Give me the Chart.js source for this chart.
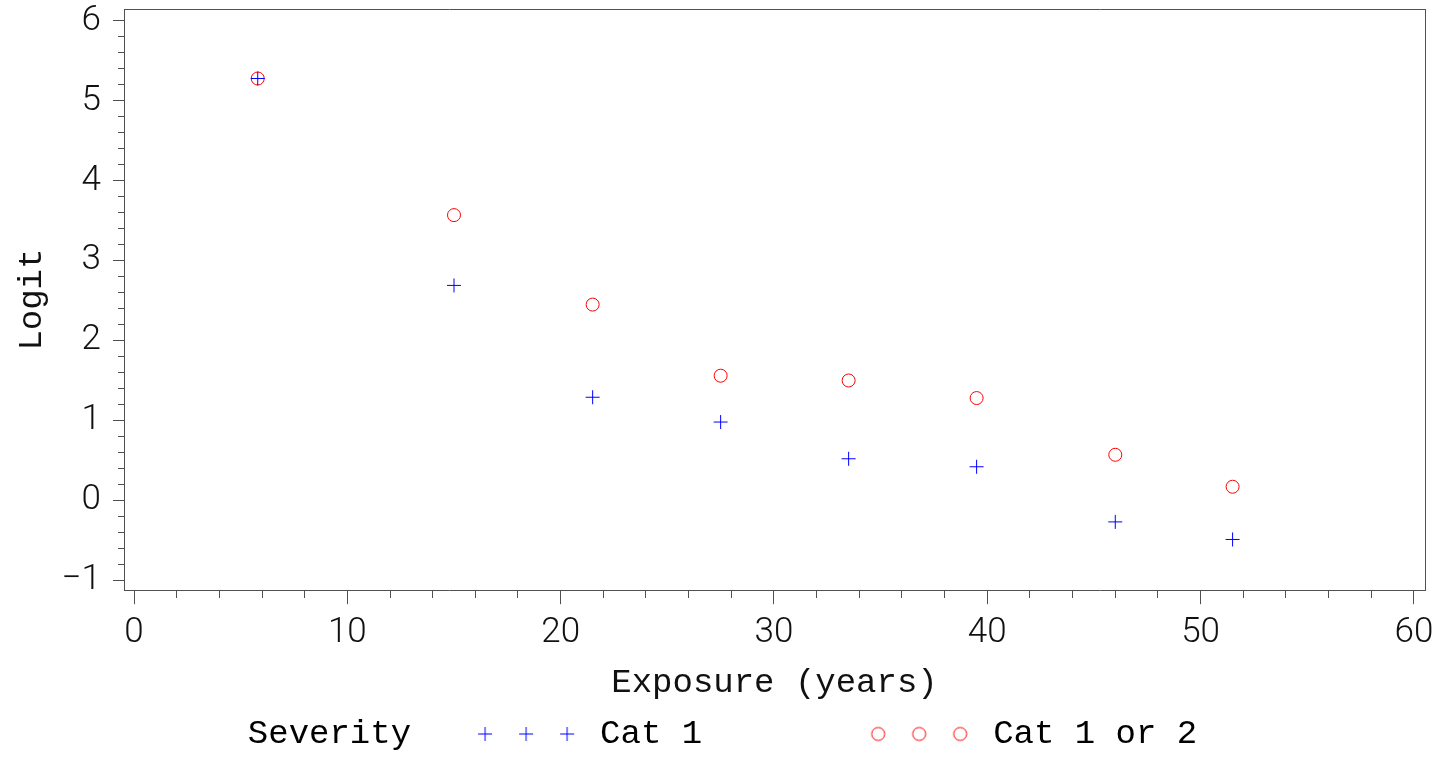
<!DOCTYPE html>
<html>
<head>
<meta charset="utf-8">
<script src="https://cdn.jsdelivr.net/npm/chart.js@4.4.1/dist/chart.umd.min.js"></script>
<style>
  html, body { margin: 0; padding: 0; background: #fff; }
  canvas { display: block; }
</style>
</head>
<body>
<canvas id="logit-chart" width="1443" height="761"></canvas>
<script>
// values
const exposure = [5.8, 15, 21.5, 27.5, 33.5, 39.5, 46, 51.5];
const cat1 = [5.28, 2.69, 1.29, 0.98, 0.52, 0.42, -0.27, -0.49];
const cat1or2 = [5.28, 3.57, 2.45, 1.56, 1.50, 1.28, 0.57, 0.17];
const seriesNames = ['Cat 1', 'Cat 1 or 2'];
const xTickLabels = [0, 10, 20, 30, 40, 50, 60];
const yTickLabels = [-1, 0, 1, 2, 3, 4, 5, 6];
const legendTitle = 'Severity';
const xTitle = 'Exposure (years)';
const yTitle = 'Logit';

const axisGray = '#505050';
const textColor = '#111';
const monoFont = {family: '"Liberation Mono", "DejaVu Sans Mono", monospace', size: 34};
const tickFont = {family: 'Roboto, "Liberation Sans", sans-serif', size: 35, weight: 300};

// three markers in a row for the legend, like the original key
const markerOffsets = [-96.5, -55.5, -14.5];
function markerStrip(style, color, radius)
{
  let c = document.createElement('canvas');
  c.width = Math.ceil(2 * (96.5 + radius + 3));
  c.height = Math.ceil(2 * radius + 6);
  let g = c.getContext('2d');
  g.strokeStyle = color;
  g.fillStyle = 'rgba(0,0,0,0)';
  g.lineWidth = 1;
  markerOffsets.forEach((dx) =>
  {
    Chart.helpers.drawPoint(g, {pointStyle: style, radius: radius, borderWidth: 1}, c.width / 2 + dx, c.height / 2);
  });
  return c;
}
function blankBox()
{
  let c = document.createElement('canvas');
  c.width = 1;
  c.height = 1;
  return c;
}

function isNear(v, list)
{
  return list.some((t) => Math.abs(v - t) < 1e-6);
}

function toPoints(xs, ys)
{
  return xs.map((x, i) => ({x: x, y: ys[i]}));
}

function drawIt()
{
  let ctx = document.getElementById('logit-chart').getContext('2d');
  const plusStrip = markerStrip('cross', '#0000ff', 7);
  const circleStrip = markerStrip('circle', '#ff0000', 6.5);

  new Chart(ctx,
  {
    type: 'scatter',
    data:
    {
      datasets: [
      {
        label: seriesNames[0],
        data: toPoints(exposure, cat1),
        pointStyle: 'cross',
        radius: 7,
        borderColor: '#0000ff',
        borderWidth: 1,
      },
      {
        label: seriesNames[1],
        data: toPoints(exposure, cat1or2),
        pointStyle: 'circle',
        radius: 6.5,
        borderColor: '#ff0000',
        backgroundColor: 'rgba(0,0,0,0)',
        borderWidth: 1,
      }, ],
    },
    options:
    {
      responsive: false,
      animation: false,
      layout: {padding: {top: 9, right: 18, left: 0, bottom: 0}},
      plugins:
      {
        tooltip: {enabled: false},
        legend:
        {
          position: 'bottom',
          onClick: null,
          labels:
          {
            usePointStyle: true,
            pointStyleWidth: 3,
            padding: 5.8,
            color: textColor,
            font: monoFont,
            // trailing spaces give the wide gaps of the original key
            generateLabels: () => [
              {text: legendTitle + ' '.repeat(8), pointStyle: blankBox(), lineWidth: 0, strokeStyle: 'rgba(0,0,0,0)', fillStyle: 'rgba(0,0,0,0)', hidden: false},
              {text: seriesNames[0] + ' '.repeat(13), pointStyle: plusStrip, lineWidth: 0, hidden: false, datasetIndex: 0},
              {text: seriesNames[1], pointStyle: circleStrip, lineWidth: 0, hidden: false, datasetIndex: 1},
            ],
          },
        },
      },
      scales:
      {
        x:
        {
          type: 'linear',
          position: 'bottom',
          min: -0.47,
          max: 60.52,
          afterFit: (s) => { s.height = 121; },
          ticks:
          {
            stepSize: 2,
            includeBounds: false,
            autoSkip: false,
            maxRotation: 0,
            padding: 8,
            color: textColor,
            font: tickFont,
            callback: (v) => isNear(v, xTickLabels) ? String(Math.round(v)) : '',
          },
          grid:
          {
            drawOnChartArea: false,
            tickLength: 14,
            tickColor: axisGray,
            tickWidth: 1,
            tickBorderDash: (c) => isNear(c.tick.value, xTickLabels) ? [] : [7, 100],
          },
          border: {color: axisGray, width: 1},
          title: {display: true, text: xTitle, color: textColor, font: monoFont, padding: {top: 4, bottom: 8}},
        },
        y:
        {
          type: 'linear',
          position: 'left',
          min: -1.125,
          max: 6.15,
          afterFit: (s) => { s.width = 124; s.paddingTop = 0; s.paddingBottom = 0; },
          ticks:
          {
            stepSize: 0.2,
            includeBounds: false,
            autoSkip: false,
            padding: 12,
            color: textColor,
            font: tickFont,
            callback: (v) =>
            {
              if (!isNear(v, yTickLabels)) return '';
              let n = Math.round(v);
              return n < 0 ? '\u2212' + Math.abs(n) : String(n);
            },
          },
          grid:
          {
            drawOnChartArea: false,
            tickLength: 11,
            tickColor: axisGray,
            tickWidth: 1,
            tickBorderDash: (c) => isNear(c.tick.value, yTickLabels) ? [] : [6, 5],
            tickBorderDashOffset: (c) => isNear(c.tick.value, yTickLabels) ? 0 : 6,
          },
          border: {color: axisGray, width: 1},
          title: {display: true, text: yTitle, color: textColor, font: monoFont, padding: {top: 12, bottom: 4}},
        },
        // top and right edges of the frame
        xTop:
        {
          type: 'linear',
          position: 'top',
          min: -0.47,
          max: 60.52,
          afterFit: (s) => { s.height = 0; },
          ticks: {display: false},
          grid: {display: false, drawTicks: false},
          border: {color: axisGray, width: 1},
        },
        yRight:
        {
          type: 'linear',
          position: 'right',
          min: -1.125,
          max: 6.15,
          afterFit: (s) => { s.width = 0; },
          ticks: {display: false},
          grid: {display: false, drawTicks: false},
          border: {color: axisGray, width: 1},
        },
      },
    },
  });
}

window.addEventListener('DOMContentLoaded', (event) =>
{
  drawIt();
});
</script>
</body>
</html>
